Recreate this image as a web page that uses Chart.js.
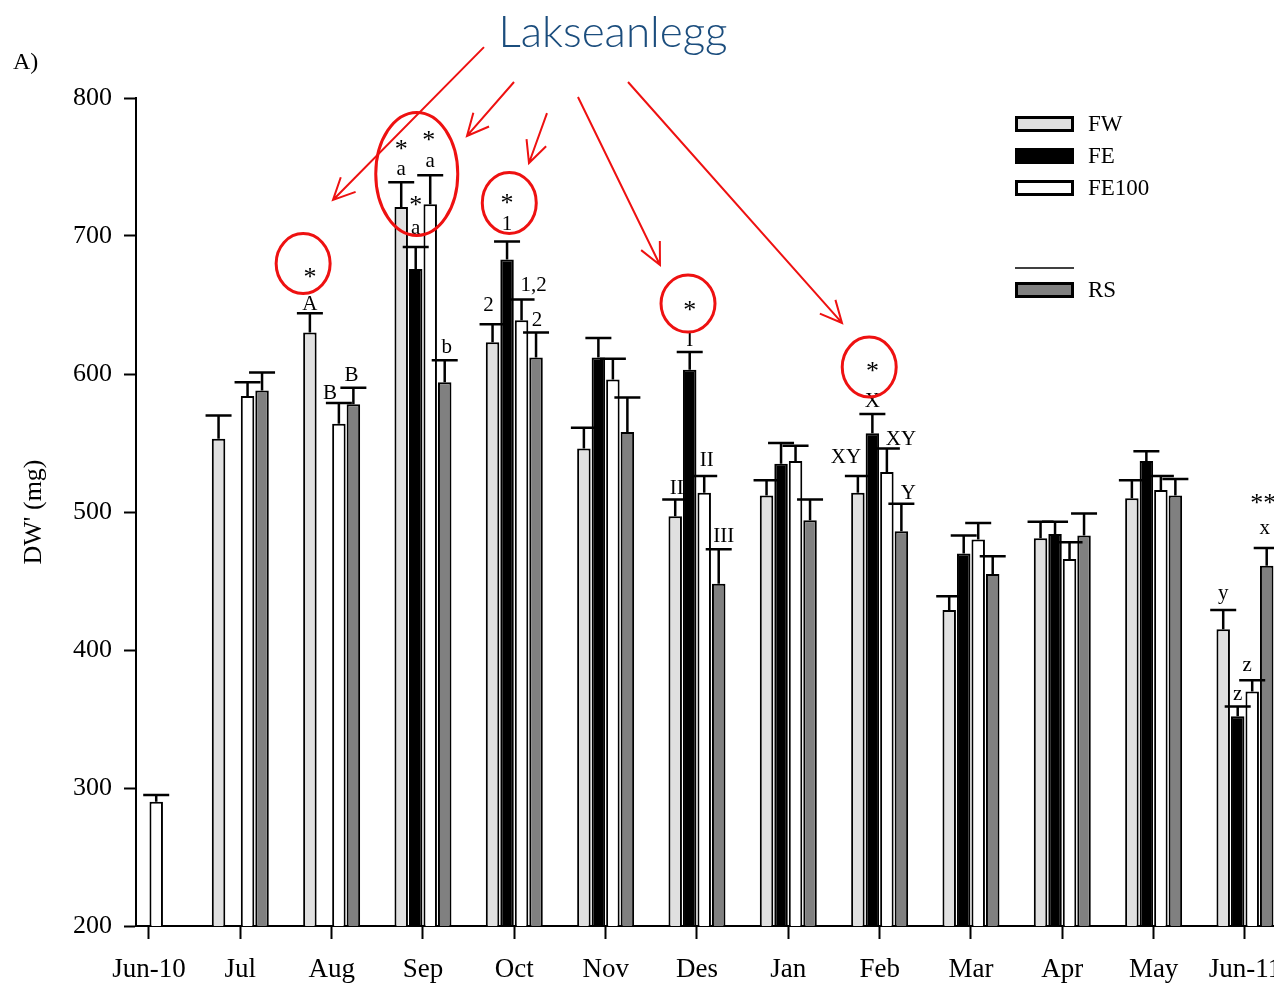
<!DOCTYPE html>
<html>
<head>
<meta charset="utf-8">
<script src="https://cdn.jsdelivr.net/npm/chart.js@4.4.1/dist/chart.umd.min.js"></script>
<style>
  html, body { margin: 0; padding: 0; background: #fff; }
  #wrap { position: relative; width: 1274px; height: 984px; }
  canvas { display: block; }
</style>
</head>
<body>
<div id="wrap"><canvas id="c" width="1274" height="984"></canvas></div>
<script>
// ---------- DATA ----------
const months = ['Jun-10','Jul','Aug','Sep','Oct','Nov','Des','Jan','Feb','Mar','Apr','May','Jun-11'];
const seriesNames = ['FW','FE','FE100','RS'];
const fw     = [null, 553, 630, 721, 623, 546, 497, 512, 514, 429, 481, 510, 415];
const fe     = [null, null, null, 676, 683, 612, 603, 535, 557, 470, 484, 537, 352];
const fe100  = [290, 584, 564, 723, 639, 596, 514, 537, 529, 480, 466, 516, 370];
const rs     = [null, 588, 578, 594, 612, 558, 448, 494, 486, 455, 483, 512, 461];
const fwErr    = [null, 17, 14, 18, 13, 15, 12, 11, 12, 10, 12, 13, 14];
const feErr    = [null, null, null, 16, 13, 14, 13, 15, 14, 13, 9, 7, 7];
const fe100Err = [5, 10, 15, 21, 15, 15, 12, 11, 17, 12, 12, 10, 8];
const rsErr    = [null, 13, 12, 16, 18, 25, 25, 15, 20, 13, 16, 12, 13];
const yTicks = [200, 300, 400, 500, 600, 700, 800];

// significance letters: [monthIndex, seriesIndex, text]
const letters = [
  [2,0,'A'],[2,2,'B'],[2,3,'B'],
  [3,0,'a'],[3,1,'a'],[3,2,'a'],[3,3,'b'],
  [4,0,'2'],[4,1,'1'],[4,2,'1,2'],[4,3,'2'],
  [6,0,'II'],[6,1,'I'],[6,2,'II'],[6,3,'III'],
  [8,0,'XY'],[8,1,'X'],[8,2,'XY'],[8,3,'Y'],
  [12,0,'y'],[12,1,'z'],[12,2,'z'],[12,3,'x']
];
// asterisks: [monthIndex, seriesIndex, text]
const stars = [[2,0,'*'],[3,0,'*'],[3,1,'*'],[3,2,'*'],[4,1,'*'],[6,1,'*'],[8,1,'*'],[12,3,'**']];
const highlightText = 'Lakseanlegg';
const panelLabel = 'A)';
const yTitle = "DW' (mg)";

// ---------- LAYOUT / STYLE (pixel offsets, not data) ----------
const letterLayout = [ // [dx, gap above cap]
  [0,3],[-9,4],[-2,6.5],
  [0,7],[0,13],[0,8.5],[2,7],
  [-4,13],[0,12],[12,8],[1,7],
  [1.5,6],[0,6],[2.5,10],[5,7],
  [-12,13],[0,7],[14,4],[7,5],
  [0,10.5],[0,7],[-5,9.5],[-2,14]
];
const starLayout = [[0,40],[0,37],[0,46],[-1.5,39],[0,43],[0,46],[0,47],[-3.5,49]];
// red circles in data space: [x(category units), y(value), rx px, ry px]
const circles = [[1.688,680,27,30],[2.932,745,41,61.5],[3.945,724,27,30.5],[5.902,651,27,28.5],[7.886,605,27,30]];
// red arrows in data space: [x0,y0,x1,y1] (head at x1,y1)
const arrows = [
  [3.668,836.9,2.015,726.1],
  [3.997,811.6,3.482,772.5],
  [4.358,789.1,4.161,752.9],
  [4.697,800.7,5.595,679.0],
  [5.245,811.6,7.588,637.0]
];

const colors = ['#e0e0e0', '#000000', '#ffffff', '#808080'];
const SERIF = '"Liberation Serif", "Times New Roman", serif';

const values = [fw, fe, fe100, rs];
const errs = [fwErr, feErr, fe100Err, rsErr];

const datasets = values.map((arr, s) => ({
  label: seriesNames[s],
  data: arr.map((v, i) => ({ x: i, y: v })),
  backgroundColor: colors[s],
  borderColor: '#000',
  borderWidth: 2,
  borderSkipped: 'start',
  categoryPercentage: 0.635,
  barPercentage: 0.93
}));

const overlay = {
  id: 'overlay',
  afterDatasetsDraw(chart) {
    const ctx = chart.ctx;
    const ys = chart.scales.y;
    ctx.save();
    ctx.strokeStyle = '#000';
    ctx.lineWidth = 2.5;
    ctx.lineCap = 'butt';
    values.forEach((arr, s) => {
      const meta = chart.getDatasetMeta(s);
      arr.forEach((v, i) => {
        if (v == null || errs[s][i] == null) return;
        const el = meta.data[i];
        const top = ys.getPixelForValue(v + errs[s][i]);
        ctx.beginPath();
        ctx.moveTo(el.x, el.y);
        ctx.lineTo(el.x, top);
        ctx.moveTo(el.x - 13, top);
        ctx.lineTo(el.x + 13, top);
        ctx.stroke();
      });
    });
    ctx.restore();
  },
  afterDraw(chart) {
    const ctx = chart.ctx;
    const xs = chart.scales.x, ys = chart.scales.y;
    const capPix = (m, s) => {
      const el = chart.getDatasetMeta(s).data[m];
      return { x: el.x, y: ys.getPixelForValue(values[s][m] + errs[s][m]) };
    };
    ctx.save();
    ctx.fillStyle = '#000';
    ctx.font = '21px ' + SERIF;
    ctx.textAlign = 'center';
    ctx.textBaseline = 'alphabetic';
    letters.forEach((L, k) => {
      const p = capPix(L[0], L[1]);
      const [dx, gap] = letterLayout[k];
      ctx.fillText(L[2], p.x + dx, p.y - gap);
    });
    ctx.font = '26px ' + SERIF;
    stars.forEach((S, k) => {
      const p = capPix(S[0], S[1]);
      const [dx, dy] = starLayout[k];
      ctx.fillText(S[2], p.x + dx, p.y - dy + 12);
    });
    ctx.strokeStyle = '#ee1111';
    ctx.lineWidth = 3;
    circles.forEach(c => {
      ctx.beginPath();
      ctx.ellipse(xs.getPixelForValue(c[0]), ys.getPixelForValue(c[1]), c[2], c[3], 0, 0, Math.PI * 2);
      ctx.stroke();
    });
    ctx.lineWidth = 2;
    arrows.forEach(a => {
      const x0 = xs.getPixelForValue(a[0]), y0 = ys.getPixelForValue(a[1]);
      const x1 = xs.getPixelForValue(a[2]), y1 = ys.getPixelForValue(a[3]);
      const ang = Math.atan2(y1 - y0, x1 - x0);
      const hl = 24, ha = Math.PI / 7;
      ctx.beginPath();
      ctx.moveTo(x0, y0);
      ctx.lineTo(x1, y1);
      ctx.moveTo(x1 - hl * Math.cos(ang - ha), y1 - hl * Math.sin(ang - ha));
      ctx.lineTo(x1, y1);
      ctx.lineTo(x1 - hl * Math.cos(ang + ha), y1 - hl * Math.sin(ang + ha));
      ctx.stroke();
    });
    ctx.fillStyle = '#1b4d7d';
    ctx.font = '300 44px Lato, "Open Sans", sans-serif';
    ctx.textAlign = 'center';
    ctx.fillText(highlightText, 613, 47);
    ctx.fillStyle = '#000';
    ctx.font = '24px ' + SERIF;
    ctx.textAlign = 'left';
    ctx.textBaseline = 'middle';
    ctx.fillText(panelLabel, 13, 63);
    const legendY = [124, 156, 188, 290];
    ctx.font = '23px ' + SERIF;
    seriesNames.forEach((n, s) => {
      ctx.fillStyle = colors[s];
      ctx.fillRect(1016.5, legendY[s] - 6.5, 56, 13);
      ctx.strokeStyle = '#000';
      ctx.lineWidth = 3;
      ctx.strokeRect(1016.5, legendY[s] - 6.5, 56, 13);
      ctx.fillStyle = '#000';
      ctx.fillText(n, 1088, legendY[s] + 1);
    });
    ctx.lineWidth = 1.5;
    ctx.beginPath();
    ctx.moveTo(1015, 268);
    ctx.lineTo(1074, 268);
    ctx.stroke();
    ctx.restore();
  }
};

new Chart(document.getElementById('c'), {
  type: 'bar',
  data: { datasets },
  plugins: [overlay],
  options: {
    responsive: false,
    animation: false,
    devicePixelRatio: 1,
    layout: { padding: { top: 98, right: 0, bottom: 0, left: 0 } },
    plugins: { legend: { display: false }, tooltip: { enabled: false }, title: { display: false } },
    scales: {
      x: {
        type: 'linear',
        min: -0.142,
        max: 12.318,
        offset: false,
        grid: { display: true, offset: false, drawOnChartArea: false, drawTicks: true, tickLength: 13, tickWidth: 2, tickColor: '#000' },
        border: { display: true, color: '#000', width: 2 },
        afterBuildTicks: s => { s.ticks = months.map((m, i) => ({ value: i })); },
        ticks: {
          stepSize: 1, includeBounds: false, autoSkip: false, maxRotation: 0, minRotation: 0,
          padding: 15, color: '#000', font: { family: SERIF, size: 27 },
          callback: v => months[v] ?? ''
        },
        afterFit: s => { s.height = 58; s.paddingLeft = 0; s.paddingRight = 0; }
      },
      y: {
        min: 200, max: 800,
        afterBuildTicks: s => { s.ticks = yTicks.map(v => ({ value: v })); },
        grid: { display: true, drawOnChartArea: false, drawTicks: true, tickLength: 12, tickWidth: 2, tickColor: '#000' },
        border: { display: true, color: '#000', width: 2 },
        ticks: { padding: 12, color: '#000', font: { family: SERIF, size: 26 } },
        title: { display: true, text: yTitle, color: '#000', font: { family: SERIF, size: 26 }, padding: { top: 19, bottom: 0 } },
        afterFit: s => { s.width = 136; s.paddingTop = 0; s.paddingBottom = 0; }
      }
    }
  }
});
</script>
</body>
</html>
